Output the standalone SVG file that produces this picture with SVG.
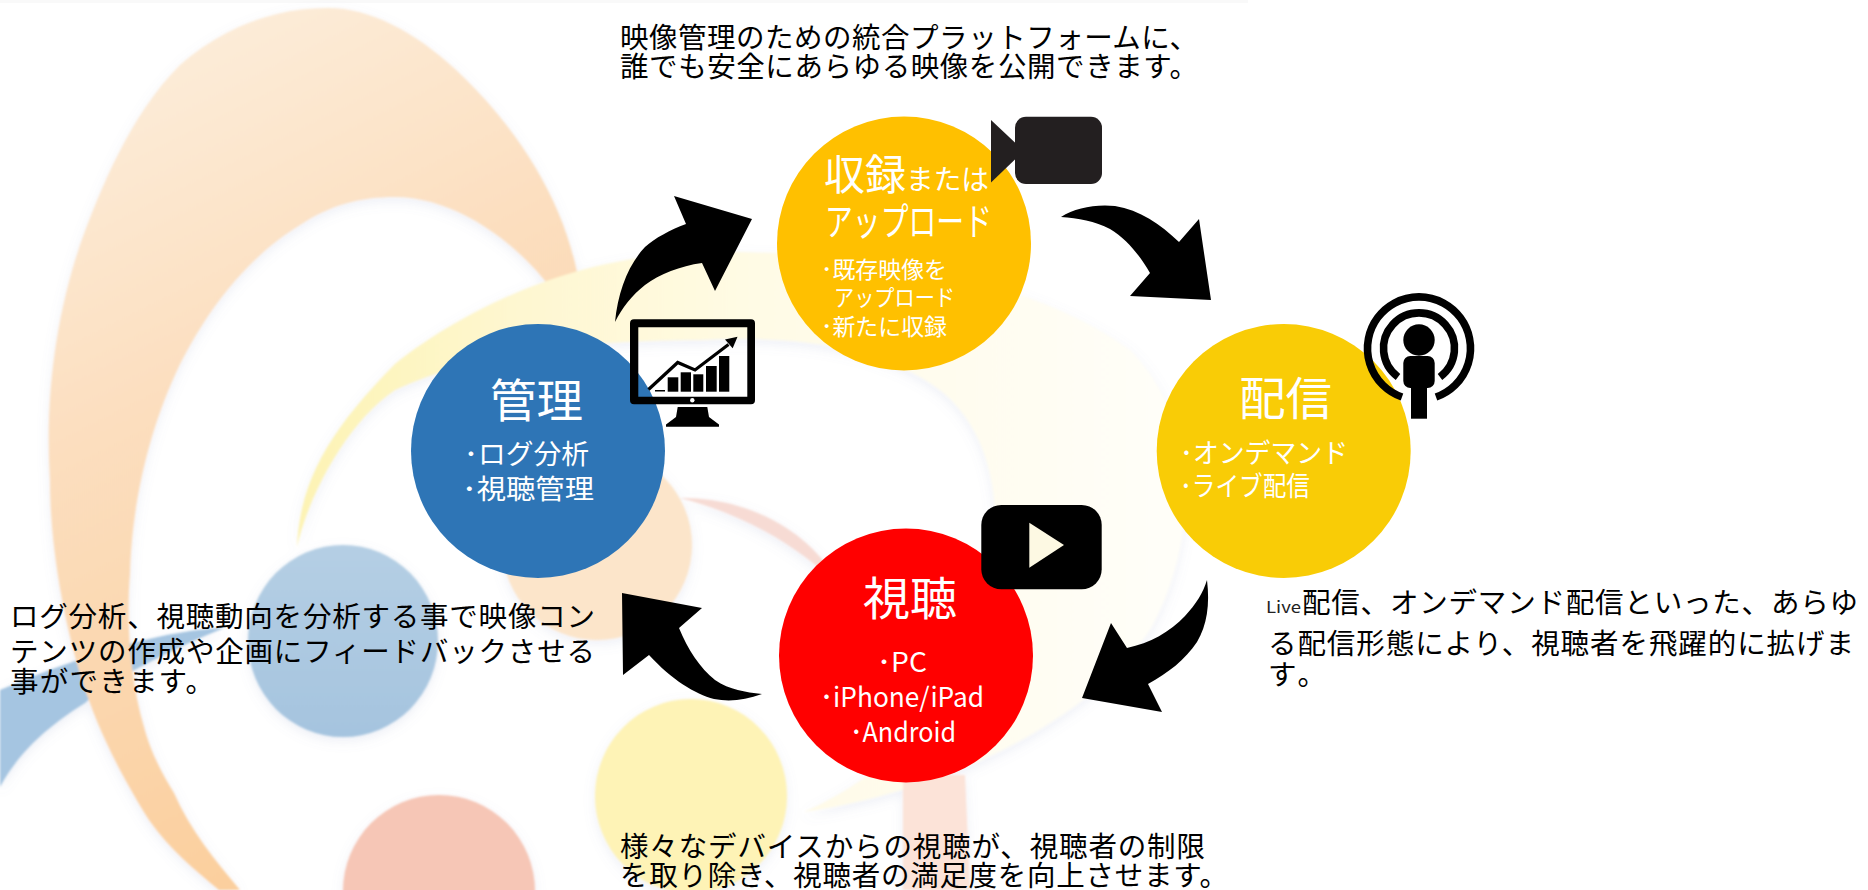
<svg xmlns="http://www.w3.org/2000/svg" width="1868" height="890" viewBox="0 0 1868 890">
<style>
text{font-family:"Noto Sans CJK JP","Noto Sans",sans-serif}
.cap{font-size:28.5px;fill:#000}
.t{fill:#fff}
.big{font-size:46px}
.sub{font-size:27px}
.sm{font-size:23px}
.arrow{fill:#000}
.ico{fill:#000}
</style>
<defs>
<linearGradient id="org" x1="0" y1="0" x2="0.3" y2="1"><stop offset="0" stop-color="#fdf0e0"/><stop offset="0.45" stop-color="#fcdfc0"/><stop offset="1" stop-color="#fbcf9e"/></linearGradient>
<linearGradient id="yel" gradientUnits="userSpaceOnUse" x1="300" y1="0" x2="1150" y2="0"><stop offset="0" stop-color="#fdf3b4"/><stop offset="0.25" stop-color="#fef7d0"/><stop offset="0.55" stop-color="#fffbe6"/><stop offset="1" stop-color="#fffef8"/></linearGradient>
<linearGradient id="blu" x1="0" y1="0" x2="0" y2="1"><stop offset="0" stop-color="#b5cfe4"/><stop offset="1" stop-color="#a5c4df"/></linearGradient>
<filter id="shadow" x="-10%" y="-10%" width="120%" height="120%"><feGaussianBlur in="SourceGraphic" stdDeviation="1.1" result="b"/><feDropShadow in="b" dx="0" dy="4" stdDeviation="6" flood-color="#8090c0" flood-opacity="0.14"/></filter>
</defs>
<rect width="1868" height="890" fill="#fff"/>
<g id="background">
<rect x="0" y="0" width="1248" height="3" fill="#f9f9f9"/>
<g filter="url(#shadow)">
<path fill="#a5c5e1" d="M224,628 C170,630 100,648 0,690 L0,787 C20,750 50,725 85,703 C110,680 170,650 224,628 Z"/>
<path fill="url(#org)" d="M577,272 C560,190 510,120 455,69 C415,32 370,8 328,8 C270,8 220,30 180,65 C130,115 100,190 80,245 C55,320 45,400 50,480 C50,560 70,650 90,703 C105,745 130,790 149,820 C170,850 195,870 219,890 L240,890 C215,860 190,830 174,793 C160,770 150,750 144,727 C130,680 126,620 130,574 C132,500 150,430 175,375 C205,310 250,255 300,225 C330,205 360,197 395,197 C450,197 510,235 550,287 Z"/>
<path fill="url(#yel)" d="M297,547 C300,480 330,430 395,364 C450,320 540,272 640,258 C680,252 710,252 740,252 C900,255 1040,285 1130,350 C1200,420 1200,540 1150,630 C1090,720 950,790 804,812 C900,770 965,690 990,590 C1005,500 990,430 940,390 C880,345 790,335 700,340 C600,340 480,350 395,390 C350,420 310,490 297,547 Z"/>
<circle cx="597" cy="545" r="95" fill="#fce5ca"/>
<path fill="#f7dbd4" d="M680,498 C740,497 800,525 830,570 L826,574 C790,542 740,513 680,498 Z"/>
<path fill="#fce3d8" d="M903,775 L965,775 L970,890 L903,890 Z"/>
<ellipse cx="343" cy="641" rx="95" ry="96" fill="url(#blu)"/>
<ellipse cx="691" cy="796" rx="96" ry="97" fill="#fef3b6"/>
<ellipse cx="439" cy="891" rx="96" ry="96" fill="#f6c6b6"/>
</g>
</g>
<g id="connectors">
<path class="arrow" d="M615,322 C618,292 628,265 645,247 C655,238 670,230 686,224 L674,196 L752,219 L715,291 L702,263 C680,266 660,274 645,285 C632,295 622,308 615,322 Z"/>
<path class="arrow" d="M1061,217 C1075,208 1095,204 1115,206 C1140,210 1160,224 1179,242 L1199,219 L1211,300 L1130,296 L1150,273 C1140,256 1128,240 1110,229 C1095,221 1078,218 1061,217 Z"/>
<path class="arrow" d="M1207,580 C1210,605 1207,625 1197,642 C1185,660 1168,673 1148,684 L1162,712 L1082,698 L1111,623 L1127,648 C1150,643 1170,632 1185,616 C1196,604 1203,593 1207,580 Z"/>
<path class="arrow" d="M622,593 L702,608 L679,628 C688,650 700,668 715,680 C730,690 745,692 762,694 C745,700 730,702 714,699 C695,694 672,680 649,655 L623,675 Z"/>
</g>
<g id="node-record">
<circle cx="904" cy="243.5" r="127" fill="#ffc000"/>
<text class="t" x="824" y="190" font-size="42" textLength="82" lengthAdjust="spacingAndGlyphs">収録</text>
<text class="t" x="906" y="190" font-size="28" textLength="83" lengthAdjust="spacingAndGlyphs">または</text>
<text class="t" x="825" y="235" font-size="38" textLength="167" lengthAdjust="spacingAndGlyphs">アップロード</text>
<text class="t sm" x="821" y="278" textLength="126" lengthAdjust="spacingAndGlyphs">･既存映像を</text>
<text class="t sm" x="834" y="306" textLength="121" lengthAdjust="spacingAndGlyphs">アップロード</text>
<text class="t sm" x="821" y="335" textLength="126" lengthAdjust="spacingAndGlyphs">･新たに収録</text>
<path fill="#231f20" d="M991,120 L1016,143.5 L1016,158.5 L991,182.5 Z"/>
<rect x="1015" y="116.7" width="87" height="67.3" rx="11" fill="#231f20"/>
</g>
<g id="node-manage">
<circle cx="538" cy="451" r="127" fill="#2e75b6"/>
<text class="t big" x="490" y="417" textLength="93" lengthAdjust="spacingAndGlyphs">管理</text>
<text class="t sub" x="464" y="464" textLength="125" lengthAdjust="spacingAndGlyphs">･ログ分析</text>
<text class="t sub" x="462" y="499" textLength="132" lengthAdjust="spacingAndGlyphs">･視聴管理</text>
<path class="ico" fill-rule="evenodd" d="M634,319.3 H751 Q755,319.3 755,323.3 V400.3 Q755,404.3 751,404.3 H634 Q630,404.3 630,400.3 V323.3 Q630,319.3 634,319.3 Z M638.3,327.3 V396.7 H747.3 V327.3 Z"/>
<circle cx="692.3" cy="400.3" r="2.2" fill="#fff"/>
<path class="ico" d="M677.7,407 H707.3 L709,417 L719,424.5 V426.7 H666 V424.5 L676,417 Z"/>
<g class="ico"><rect x="667.7" y="377.3" width="10.6" height="14.4"/><rect x="680.7" y="372.3" width="10.3" height="19.4"/><rect x="693.3" y="374.3" width="10" height="17.4"/><rect x="706" y="366" width="10.7" height="25.7"/><rect x="719" y="356" width="10.3" height="35.7"/><rect x="655" y="390" width="10" height="1.5"/></g>
<polyline points="648.5,389.5 677.7,362.5 695,370 728.5,344.5" fill="none" stroke="#000" stroke-width="3.2"/>
<path class="ico" d="M737.5,336.7 L725,339.5 L732.7,348.3 Z"/>
</g>
<g id="node-deliver">
<circle cx="1283.7" cy="451" r="127" fill="#f9cc06"/>
<text class="t big" x="1239" y="415" textLength="93" lengthAdjust="spacingAndGlyphs">配信</text>
<text class="t sub" x="1180" y="463" textLength="168" lengthAdjust="spacingAndGlyphs">･オンデマンド</text>
<text class="t sub" x="1180" y="496" textLength="130" lengthAdjust="spacingAndGlyphs">･ライブ配信</text>
<path d="M1402,397 A51.5,51.5 0 1 1 1436,397" fill="none" stroke="#000" stroke-width="7.6"/>
<path d="M1398,377 A35.5,35.5 0 1 1 1440,377" fill="none" stroke="#000" stroke-width="7.6"/>
<circle class="ico" cx="1419" cy="340" r="15.7"/>
<rect class="ico" x="1403.3" y="356" width="31.4" height="32" rx="7"/>
<rect class="ico" x="1411" y="380" width="16" height="38.7"/>
</g>
<g id="node-watch">
<circle cx="906" cy="655.5" r="127" fill="#ff0000"/>
<text class="t big" x="863" y="615" textLength="94" lengthAdjust="spacingAndGlyphs">視聴</text>
<text class="t sub" x="877" y="672" textLength="50" lengthAdjust="spacingAndGlyphs">･PC</text>
<text class="t sub" x="820" y="707" textLength="164" lengthAdjust="spacingAndGlyphs">･iPhone/iPad</text>
<text class="t sub" x="850" y="741.5" textLength="106" lengthAdjust="spacingAndGlyphs">･Android</text>
<rect x="981.3" y="505" width="120.4" height="84.3" rx="20" fill="#000"/>
<path d="M1029.3,522.7 L1064,545 L1029.3,567.7 Z" fill="#fdf9e3"/>
</g>
<g id="caption-top">
<text class="cap" x="620" y="48" textLength="578" lengthAdjust="spacing">映像管理のための統合プラットフォームに、</text>
<text class="cap" x="620" y="77" textLength="578" lengthAdjust="spacing">誰でも安全にあらゆる映像を公開できます。</text>
</g>
<g id="caption-left">
<text class="cap" x="10" y="627" textLength="585" lengthAdjust="spacing">ログ分析、視聴動向を分析する事で映像コン</text>
<text class="cap" x="10" y="662" textLength="585" lengthAdjust="spacing">テンツの作成や企画にフィードバックさせる</text>
<text class="cap" x="10" y="692" textLength="204" lengthAdjust="spacing">事ができます。</text>
</g>
<g id="caption-right">
<text x="1266" y="613" font-size="16" fill="#222" textLength="35" lengthAdjust="spacingAndGlyphs">Live</text>
<text class="cap" x="1302" y="613" textLength="556" lengthAdjust="spacing">配信、オンデマンド配信といった、あらゆ</text>
<text class="cap" x="1268" y="654" textLength="586" lengthAdjust="spacing">る配信形態により、視聴者を飛躍的に拡げま</text>
<text class="cap" x="1268" y="685" textLength="58" lengthAdjust="spacing">す。</text>
</g>
<g id="caption-bottom">
<text class="cap" x="620" y="857" textLength="585" lengthAdjust="spacing">様々なデバイスからの視聴が、視聴者の制限</text>
<text class="cap" x="620" y="886" textLength="608" lengthAdjust="spacing">を取り除き、視聴者の満足度を向上させます。</text>
</g>
</svg>
